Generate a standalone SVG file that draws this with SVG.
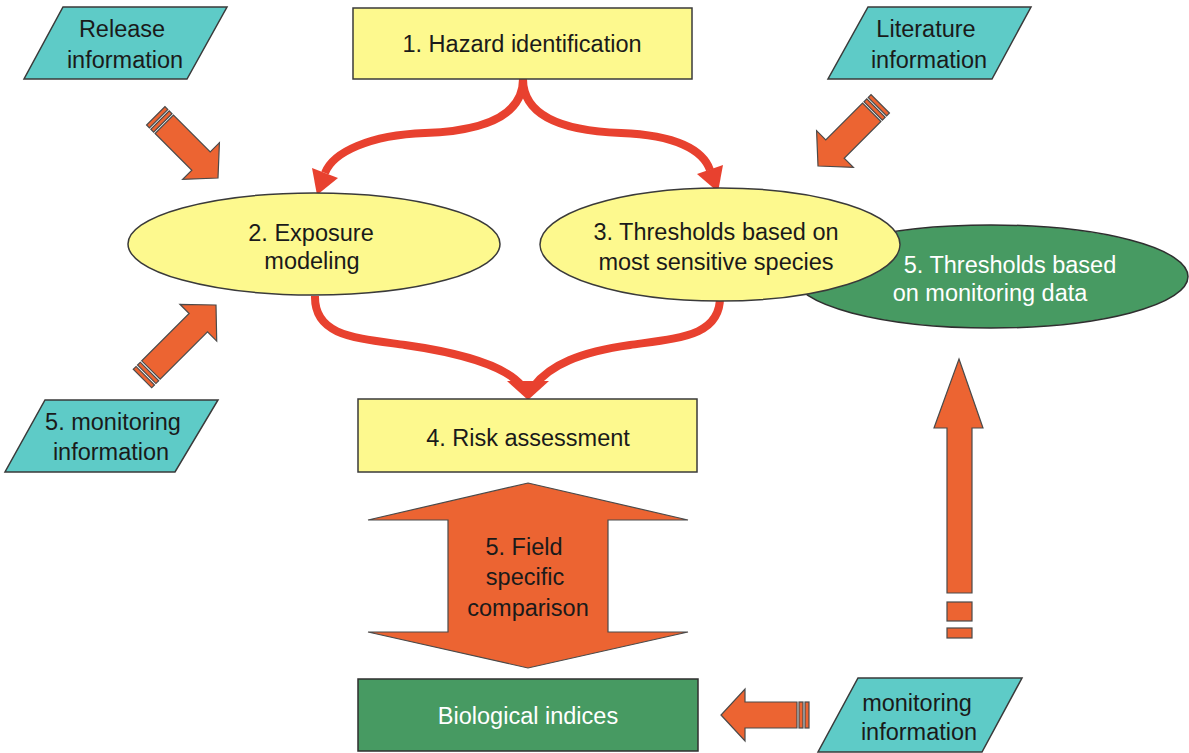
<svg xmlns="http://www.w3.org/2000/svg" width="1189" height="753" viewBox="0 0 1189 753">
<style>
text{font-family:"Liberation Sans",Arial,sans-serif;font-size:23.5px;fill:#1a1a1a;text-anchor:middle}
.wt{fill:#ffffff}
.para{fill:#5ECBC7;stroke:#3a3a3a;stroke-width:1.5}
.yel{fill:#FDF98E;stroke:#3a3a3a;stroke-width:1.5}
.grn{fill:#479A62;stroke:#2f2f2f;stroke-width:1.5}
.org{fill:#EC6432;stroke:#4a4a4a;stroke-width:1.2}
.red{fill:none;stroke:#E8412F;stroke-width:8;stroke-linecap:butt}
.redh{fill:#E8412F}
</style>
<defs>
<g id="sarrow90">
<path class="org" d="M0,0 L-24,-26 L-24,-13 L-76,-13 L-76,13 L-24,13 L-24,26 Z"/>
<rect class="org" x="-82" y="-13" width="4" height="26"/>
<rect class="org" x="-88" y="-13" width="4" height="26"/>
</g>
<g id="sarrow104">
<path class="org" d="M0,0 L-25,-26 L-25,-13 L-92,-13 L-92,13 L-25,13 L-25,26 Z"/>
<rect class="org" x="-98" y="-13" width="4" height="26"/>
<rect class="org" x="-104" y="-13" width="4" height="26"/>
</g>
</defs>
<g id="connectors">
<path class="red" d="M523,79 C523,118 480,131 425,133 C370,135 333,152 325,173"/>
<polygon class="redh" points="317,195 338,178 312,168"/>
<path class="red" d="M523,79 C523,118 566,131 621,133 C676,135 703,150 710,170"/>
<polygon class="redh" points="718,192 697,174 723,165"/>
<path class="red" d="M315,296 C314,336 355,338 405,345 C455,352 505,365 522,386"/>
<path class="red" d="M720,296 C721,336 680,338 630,345 C580,352 550,365 534,386"/>
<polygon class="redh" points="507,381 549,381 528,400"/>
<use href="#sarrow90" transform="translate(218,178) rotate(45)"/>
<use href="#sarrow90" transform="translate(818,166) rotate(135)"/>
<use href="#sarrow104" transform="translate(216,305) rotate(-45)"/>
<use href="#sarrow90" transform="translate(721,715) rotate(180)"/>
<g id="up-arrow">
<path class="org" d="M959,359 L983,428 L972,428 L972,593 L947,593 L947,428 L934,428 Z"/>
<rect class="org" x="947" y="602" width="25" height="19"/>
<rect class="org" x="947" y="628" width="25" height="10"/>
</g>
</g>
<g id="release-info">
<polygon class="para" points="63,7 227,7 187,79 24,79"/>
<text x="122" y="37">Release</text>
<text x="125" y="68">information</text>
</g>
<g id="literature-info">
<polygon class="para" points="868,7 1031,7 992,79 828,79"/>
<text x="926" y="37">Literature</text>
<text x="929" y="68">information</text>
</g>
<g id="monitoring-info-5">
<polygon class="para" points="45,400 218,400 175,472 5,472"/>
<text x="113" y="430">5. monitoring</text>
<text x="111" y="460">information</text>
</g>
<g id="monitoring-info">
<polygon class="para" points="858,678 1022,678 982,752 818,752"/>
<text x="917" y="711">monitoring</text>
<text x="919" y="740">information</text>
</g>
<g id="hazard">
<rect class="yel" x="353" y="8" width="339" height="71"/>
<text x="522" y="52">1. Hazard identification</text>
</g>
<g id="thresholds-monitoring">
<ellipse class="grn" cx="991" cy="276.5" rx="197" ry="51.5"/>
<text class="wt" x="1010" y="273">5. Thresholds based</text>
<text class="wt" x="990" y="301">on monitoring data</text>
</g>
<g id="exposure">
<ellipse class="yel" cx="314" cy="244" rx="186" ry="51"/>
<text x="311" y="241">2. Exposure</text>
<text x="312" y="269">modeling</text>
</g>
<g id="thresholds-species">
<ellipse class="yel" cx="720" cy="244.5" rx="180" ry="56.5"/>
<text x="716" y="240">3. Thresholds based on</text>
<text x="716" y="270">most sensitive species</text>
</g>
<g id="risk">
<rect class="yel" x="358" y="399" width="339" height="73"/>
<text x="528" y="446">4. Risk assessment</text>
</g>
<g id="field-comparison">
<polygon class="org" points="528,483 688,520 608,520 608,632 688,632 528,668 368,632 448,632 448,520 368,520"/>
<text x="524" y="555">5. Field</text>
<text x="525" y="585">specific</text>
<text x="528" y="616">comparison</text>
</g>
<g id="bio-indices">
<rect class="grn" x="358" y="679" width="340" height="72"/>
<text class="wt" x="528" y="724">Biological indices</text>
</g>
</svg>
